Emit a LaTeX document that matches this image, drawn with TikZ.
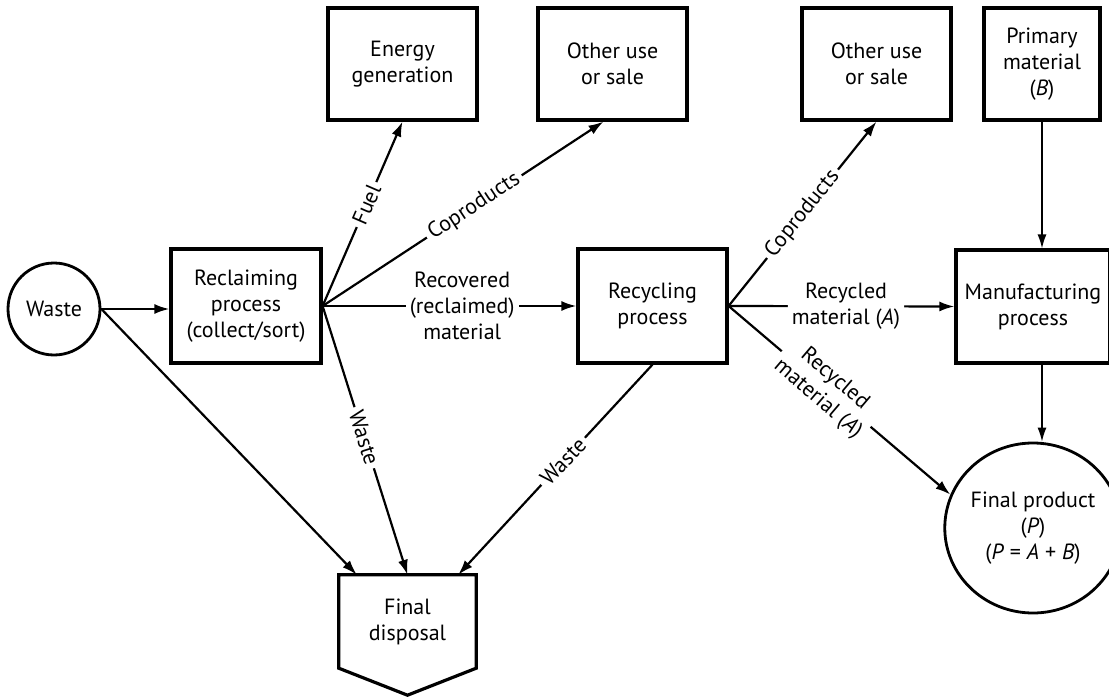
\documentclass[tikz,border=0pt]{standalone}
\usepackage{fontspec}
\setmainfont{PT Sans}
\usetikzlibrary{arrows.meta,shapes.geometric}

\begin{document}
\begin{tikzpicture}[x=1pt, y=-1pt,
  font=\fontsize{22}{26}\selectfont,
  box/.style={draw, line width=3.2pt, align=center, inner sep=0pt},
  flow/.style={line width=2.2pt, -{Latex[length=15pt,width=10pt]}},
  thin flow/.style={line width=1.4pt, -{Latex[length=14pt,width=9pt]}},
  tag/.style={fill=white, sloped, align=center, inner sep=4pt}]
  \useasboundingbox (0,0) rectangle (1109,698);

  \node[box, circle, line width=2.8pt, minimum size=92pt] (waste) at (54,309) {Waste};
  \node[box, minimum width=150pt, minimum height=114pt] (reclaim) at (246,306) {Reclaiming\\process\\(collect/sort)};
  \node[box, minimum width=149pt, minimum height=114pt] (recycle) at (652.5,306) {Recycling\\process};
  \node[box, minimum width=154pt, minimum height=113pt] (manu) at (1033,306.5) {Manufacturing\\process};

  \node[box, minimum width=149pt, minimum height=112pt] (energy) at (402.5,64) {Energy\\generation};
  \node[box, minimum width=149pt, minimum height=112pt] (other1) at (612.5,64) {Other use\\or sale};
  \node[box, minimum width=149pt, minimum height=112pt] (other2) at (876.5,64) {Other use\\or sale};
  \node[box, minimum width=116pt, minimum height=112pt] (primary) at (1042,64) {Primary\\material\\(\textit{B})};

  \node[box, ellipse, line width=2.8pt, minimum width=152pt, minimum height=170pt] (final) at (1033,528) {Final product\\(\textit{P})\\(\textit{P} = \textit{A} + \textit{B})};

  \node[minimum width=137pt, minimum height=93pt, align=center] (disposal) at (407.5,621.5) {Final\\disposal};
  \draw[line width=3.2pt] (disposal.north west) -- (disposal.north east) -- (disposal.south east)
    -- ([yshift=-27pt]disposal.south) -- (disposal.south west) -- cycle;

  \draw[flow] (waste.east) -- (waste.east -| reclaim.west);
  \draw[flow] (waste.east) -- ([xshift=18pt]disposal.north west);

  \draw[flow] (reclaim.east) -- node[tag, pos=.55] {Fuel} (energy.south);
  \draw[flow] (reclaim.east) -- node[tag, pos=.54] {Coproducts} ([xshift=-9pt]other1.south);
  \draw[flow] (reclaim.east) -- node[tag, pos=.55] {Recovered\\(reclaimed)\\material} (recycle.west);
  \draw[flow] (reclaim.east) -- node[tag, pos=.49] {Waste} (disposal.north);

  \draw[flow] (recycle.south) -- node[tag, pos=.46] {Waste} ([xshift=-18pt]disposal.north east);
  \draw[flow] (recycle.east) -- node[tag, pos=.5] {Coproducts} (other2.south);
  \draw[flow] (recycle.east) -- node[tag, pos=.52] {Recycled\\material (\textit{A})} (manu.west);
  \draw[flow] (recycle.east) -- node[tag, pos=.44] {Recycled\\material (\textit{A})} (final.158);

  \draw[thin flow] (primary.south) -- (primary.south |- manu.north);
  \draw[thin flow] (manu.south -| primary.south) -- (final.north -| primary.south);

\end{tikzpicture}
\end{document}
